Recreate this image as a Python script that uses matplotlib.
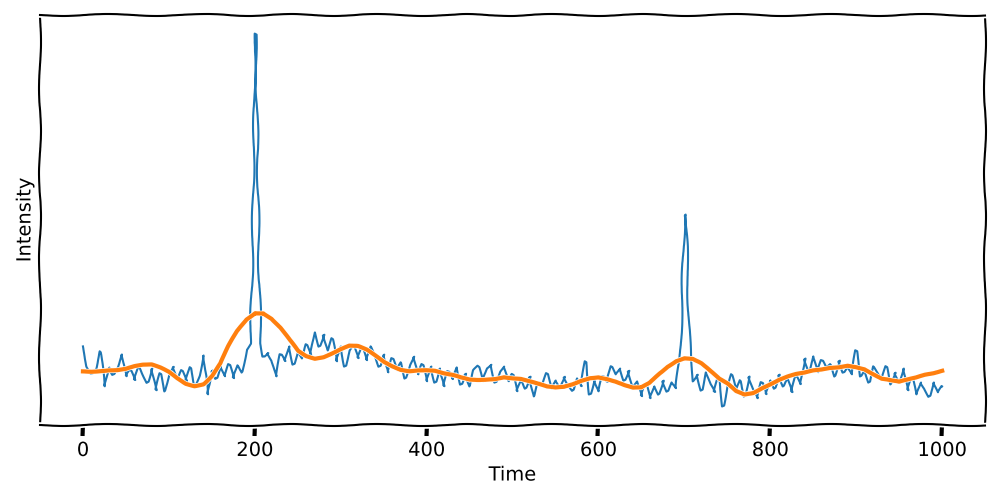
import numpy as np
import matplotlib
matplotlib.use("Agg")
import matplotlib.pyplot as plt

# signal brut, un point tous les 5 unites de temps (0..1000)
t_step = 5
signal = [
    3.0, 1.0, 0.3, 0.8, 2.5, -1.0, 0.9, 0.2, 1.0, 2.2,
    0.0, 0.6, -0.4, 1.1, 0.2, -0.6, 0.8, -1.4, 0.3, -1.5,
    0.4, 1.0, -0.3, 0.6, -0.5, 0.9, -1.0, 0.1, 2.1, -1.8,
    0.6, -0.2, 1.0, 0.0, 1.2, -0.2, 1.1, 0.4, 2.7, 3.3,
    31.3, 10.5, 2.0, 2.4, 1.6, 0.0, 2.2, 1.5, 3.0, 1.2,
    2.6, 1.8, 3.2, 2.0, 4.4, 3.0, 4.2, 2.6, 3.8, 1.5,
    3.0, 1.0, 2.6, 3.2, 1.8, 2.8, 1.6, 3.0, 2.2, 1.0,
    2.2, 0.4, 1.8, 0.6, 1.4, -0.2, 1.2, 2.0, 0.2, 1.2,
    -0.5, 1.0, -0.6, 0.8, -1.0, 0.5, -0.3, 0.9, -0.8, 0.3,
    -1.0, 0.6, 1.0, -0.5, 0.8, 1.2, -0.6, 0.5, 1.0, -0.5,
    0.2, -1.5, -0.3, -1.2, 0.0, -2.0, -0.6, -1.0, 0.3, -1.2,
    -0.4, -1.0, 0.0, -0.8, -1.4, -0.2, -1.0, 1.5, -1.8, -0.4,
    -1.5, 0.0, -0.6, 1.0, 0.2, 0.8, -0.4, 0.6, -1.0, -0.5,
    -2.0, -0.8, -2.2, -1.0, -1.8, -0.4, -1.5, -0.6, -1.2, 1.6,
    15.3, 6.6, -0.5, 0.2, -1.4, 0.4, -0.8, -1.6, 0.0, -3.0,
    -1.0, 0.2, -1.6, -0.4, -2.0, 0.0, -1.2, -2.2, -0.6, -1.8,
    -0.4, -1.2, 0.2, -1.0, -0.2, -1.6, 0.0, -0.8, 1.8, 0.6,
    2.0, 0.4, 1.6, 0.8, 1.2, 0.0, 1.6, 0.4, 1.0, 0.2,
    2.6, 0.0, 0.8, -0.6, 1.0, 0.2, -0.4, 1.0, -0.8, 0.4,
    -0.4, 0.8, -1.4, -0.2, -1.8, -0.6, -1.2, -2.0, -0.6, -1.6,
    -1.0,
]

# points supplementaires autour des deux pics
pic_t = [197, 199, 201, 203, 207, 697, 699, 701, 703, 707]
pic_v = [10.5, 24.9, 34.3, 24.9, 3.3, 6.6, 13.0, 16.2, 13.0, 1.6]

# courbe lissee, un point tous les 10
lisse_step = 10
lisse = [
    0.5, 0.5, 0.6, 0.7, 0.7, 0.8, 1.0, 1.1, 1.1, 0.8,
    0.4, -0.2, -0.7, -0.9, -0.7, 0.1, 1.3, 3.0, 4.5, 5.7,
    6.4, 6.4, 5.8, 4.8, 3.6, 2.5, 2.0, 1.8, 2.0, 2.4,
    2.8, 3.1, 3.0, 2.6, 2.0, 1.4, 1.0, 0.7, 0.6, 0.7,
    0.7, 0.6, 0.3, 0.1, -0.2, -0.4, -0.4, -0.3, -0.2, 0.0,
    -0.1, -0.2, -0.5, -0.8, -1.1, -1.2, -1.1, -0.8, -0.4, -0.1,
    0.0, -0.2, -0.5, -0.9, -1.2, -1.2, -0.7, 0.2, 1.0, 1.6,
    1.9, 1.8, 1.3, 0.5, -0.3, -0.8, -1.5, -1.8, -1.6, -1.1,
    -0.7, -0.3, 0.0, 0.2, 0.3, 0.5, 0.6, 0.8, 0.9, 1.1,
    1.0, 0.8, 0.3, -0.2, -0.4, -0.6, -0.4, -0.2, 0.1, 0.3,
    0.6,
]

x_ticks = [0, 200, 400, 600, 800, 1000]

t = np.concatenate([np.arange(len(signal)) * t_step, pic_t])
v = np.concatenate([signal, pic_v])
ordre = np.argsort(t, kind="stable")
t, v = t[ordre], v[ordre]
t_lisse = np.arange(len(lisse)) * lisse_step

with plt.xkcd():
    plt.rcParams['font.family'] = ['DejaVu Sans']
    fig, ax = plt.subplots(figsize=(10, 5), dpi=100)
    fig.subplots_adjust(left=0.04, right=0.985, top=0.97, bottom=0.15)

    ax.plot(t, v, color='#1f77b4', linewidth=1.5)
    ax.plot(t_lisse, lisse, color='#ff7f0e', linewidth=3)

    ax.set_xticks(x_ticks)
    ax.set_yticks([])
    ax.set_xlabel('Time')
    ax.set_ylabel('Intensity')

    fig.savefig('out.png', dpi=100)
